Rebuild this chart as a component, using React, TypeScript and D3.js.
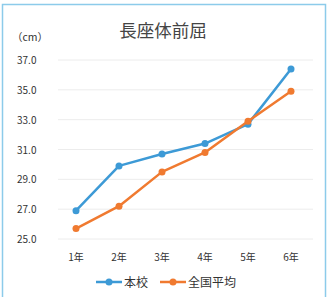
import { useEffect, useRef } from 'react';
import * as d3 from 'd3';

const grades = ['1年', '2年', '3年', '4年', '5年', '6年'];
const school = [26.9, 29.9, 30.7, 31.4, 32.7, 36.4];
const national = [25.7, 27.2, 29.5, 30.8, 32.9, 34.9];
const yTicks = [25, 27, 29, 31, 33, 35, 37];

const BLUE = '#3d9ad6';
const ORANGE = '#f07a30';

export default function App() {
  const ref = useRef<SVGSVGElement | null>(null);

  useEffect(() => {
    document.body.style.margin = '0';
    const el = ref.current;
    if (!el) return;
    const svg = d3.select(el);
    svg.selectAll('*').remove();

    const w = 331;
    const h = 297;
    const font = '"Noto Sans CJK JP", "Noto Sans", sans-serif';

    svg.append('rect').attr('width', w).attr('height', h).attr('fill', '#fff');
    // outer frame
    svg.append('rect')
      .attr('x', 2.5).attr('y', 4.5).attr('width', 323).attr('height', 300)
      .attr('fill', 'none').attr('stroke', '#8ccbea').attr('stroke-width', 1.5);

    const x = d3.scaleBand().domain(grades).range([54.5, 312.5]);
    const y = d3.scaleLinear().domain([25, 37]).range([239, 60]);

    // grid
    svg.append('g').selectAll('line').data(yTicks).join('line')
      .attr('x1', 58).attr('x2', 313)
      .attr('y1', d => y(d)).attr('y2', d => y(d))
      .attr('stroke', '#ececec').attr('stroke-width', 1);

    // y labels
    svg.append('g').selectAll('text').data(yTicks).join('text')
      .attr('x', 17).attr('y', d => y(d) + 4)
      .attr('font-family', font).attr('font-size', 10).attr('fill', '#333')
      .text(d => d.toFixed(1));

    // x labels
    svg.append('g').selectAll('text').data(grades).join('text')
      .attr('x', d => (x(d) ?? 0) + x.bandwidth() / 2).attr('y', 261)
      .attr('text-anchor', 'middle')
      .attr('font-family', font).attr('font-size', 10).attr('fill', '#333')
      .text(d => d);

    // title + unit
    svg.append('text').attr('x', 163).attr('y', 37).attr('text-anchor', 'middle')
      .attr('font-family', font).attr('font-size', 17.5).attr('fill', '#444')
      .text('長座体前屈');
    svg.append('text').attr('x', 12).attr('y', 41)
      .attr('font-family', font).attr('font-size', 10.5).attr('fill', '#333')
      .text('（cm）');

    const cx = (i: number) => (x(grades[i]) ?? 0) + x.bandwidth() / 2;
    const line = d3.line<number>().x((_, i) => cx(i)).y(d => y(d));

    const series = [
      { name: '本校', values: school, color: BLUE },
      { name: '全国平均', values: national, color: ORANGE },
    ];
    for (const s of series) {
      svg.append('path').datum(s.values).attr('d', line)
        .attr('fill', 'none').attr('stroke', s.color).attr('stroke-width', 2.5)
        .attr('stroke-linejoin', 'round');
      svg.append('g').selectAll('circle').data(s.values).join('circle')
        .attr('cx', (_, i) => cx(i)).attr('cy', d => y(d)).attr('r', 3.5)
        .attr('fill', s.color);
    }

    // legend
    const lg = svg.append('g').attr('transform', 'translate(96,282)');
    let lx = 0;
    series.forEach((s, i) => {
      const g = lg.append('g').attr('transform', `translate(${lx},0)`);
      g.append('line').attr('x1', 0).attr('x2', 26).attr('y1', 0).attr('y2', 0)
        .attr('stroke', s.color).attr('stroke-width', 2.5);
      g.append('circle').attr('cx', 13).attr('cy', 0).attr('r', 3.5).attr('fill', s.color);
      g.append('text').attr('x', 28).attr('y', 4.5)
        .attr('font-family', font).attr('font-size', 12).attr('fill', '#333')
        .text(s.name);
      lx += i === 0 ? 64 : 0;
    });
  }, []);

  return <svg ref={ref} width={331} height={297} style={{ display: 'block' }} />;
}
